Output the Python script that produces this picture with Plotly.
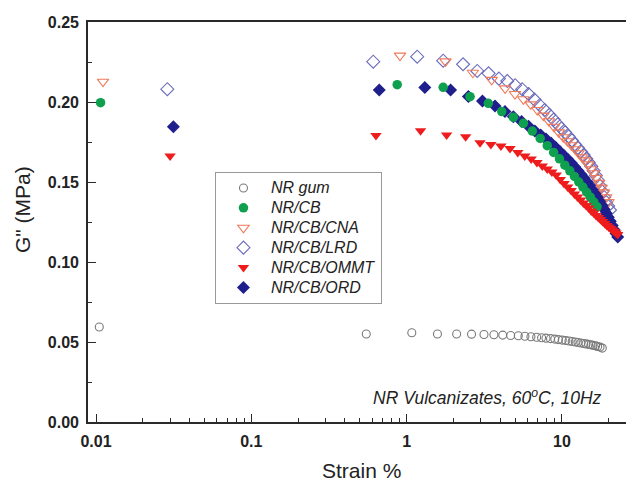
import plotly.graph_objects as go

# ---------------- data ----------------
strain_gum = [0.0105, 0.55, 1.08, 1.58, 2.10, 2.62, 3.15, 3.65, 4.16, 4.68, 5.24, 5.78, 6.32, 6.88, 7.40,
              7.90, 8.45, 9.00, 9.50, 10.05, 10.6, 11.1, 11.65, 12.2, 12.7, 13.25, 13.8, 14.3, 14.85,
              15.4, 15.9, 16.5, 17.0, 17.6, 18.2]
g_gum = [0.0594, 0.0550, 0.0558, 0.0550, 0.0550, 0.0549, 0.0547, 0.0545, 0.0543, 0.0541, 0.0539, 0.0536,
         0.0533, 0.0530, 0.0527, 0.0524, 0.0521, 0.0518, 0.0515, 0.0512, 0.0509, 0.0506, 0.0503, 0.0500,
         0.0497, 0.0494, 0.0491, 0.0488, 0.0485, 0.0482, 0.0479, 0.0476, 0.0472, 0.0468, 0.0462]

strain_cb = [0.0107, 0.87, 1.72, 2.56, 3.36, 4.10, 4.87, 5.65, 6.45, 7.25, 8.05, 8.85, 9.65, 10.45, 11.25,
             12.05, 12.85, 13.65, 14.45, 15.25, 16.05, 16.85]
g_cb = [0.1996, 0.2108, 0.2092, 0.2033, 0.1992, 0.1940, 0.1904, 0.1867, 0.1818, 0.1772, 0.1727, 0.1685,
        0.1645, 0.1605, 0.1570, 0.1535, 0.1500, 0.1468, 0.1436, 0.1405, 0.1375, 0.1345]

strain_cna = [0.0111, 0.907, 1.78, 2.67, 3.53, 4.31, 4.99, 5.65, 6.30, 6.95, 7.60, 8.25, 8.90, 9.55, 10.2,
              10.85, 11.5, 12.15, 12.8, 13.45, 14.1, 14.75, 15.4, 16.05, 16.7, 17.35, 18.0, 18.65, 19.3, 19.95]
g_cna = [0.2127, 0.2290, 0.2254, 0.2183, 0.2138, 0.2085, 0.2050, 0.2017, 0.1985, 0.1950, 0.1915, 0.1880,
         0.1845, 0.1810, 0.1780, 0.1755, 0.1730, 0.1705, 0.1680, 0.1655, 0.1635, 0.1610, 0.1580, 0.1555,
         0.1525, 0.1495, 0.1465, 0.1435, 0.1405, 0.1375]

strain_lrd = [0.0288, 0.61, 1.17, 1.72, 2.31, 2.85, 3.37, 3.93, 4.45, 5.00, 5.55, 6.10, 6.65, 7.20, 7.75,
              8.30, 8.85, 9.40, 9.95, 10.5, 11.05, 11.6, 12.15, 12.7, 13.25, 13.8, 14.35, 14.9, 15.45,
              16.0, 16.55, 17.1, 17.65, 18.2, 18.75, 19.3, 19.85, 20.4]
g_lrd = [0.2080, 0.2252, 0.2283, 0.2258, 0.2236, 0.2194, 0.2179, 0.2146, 0.2131, 0.2105, 0.2080, 0.2050,
         0.2015, 0.1980, 0.1950, 0.1920, 0.1890, 0.1860, 0.1835, 0.1810, 0.1785, 0.1760, 0.1735, 0.1712,
         0.1690, 0.1668, 0.1645, 0.1622, 0.1598, 0.1570, 0.1540, 0.1510, 0.1475, 0.1440, 0.1405, 0.1375,
         0.1350, 0.1325]

strain_ommt = [0.030, 0.635, 1.23, 1.81, 2.40, 2.97, 3.49, 4.05, 4.63, 5.20, 5.77, 6.34, 6.91, 7.48, 8.05,
               8.62, 9.19, 9.76, 10.33, 10.9, 11.47, 12.04, 12.61, 13.18, 13.75, 14.32, 14.89, 15.46,
               16.03, 16.6, 17.17, 17.74, 18.31, 18.88, 19.45, 20.02, 20.59, 21.16, 21.73, 22.3, 22.87]
g_ommt = [0.1663, 0.1790, 0.1820, 0.1794, 0.1783, 0.1746, 0.1735, 0.1725, 0.1710, 0.1684, 0.1663, 0.1644,
          0.1622, 0.1600, 0.1581, 0.1563, 0.1544, 0.1516, 0.1491, 0.1469, 0.1447, 0.1425, 0.1406, 0.1388,
          0.1369, 0.1353, 0.1338, 0.1319, 0.1306, 0.1291, 0.1278, 0.1266, 0.1253, 0.1241, 0.1228, 0.1219,
          0.1209, 0.1200, 0.1191, 0.1181, 0.1172]

strain_ord = [0.0315, 0.667, 1.31, 1.92, 2.50, 3.08, 3.71, 4.30, 4.87, 5.50, 6.10, 6.70, 7.30, 7.90, 8.50,
              9.10, 9.70, 10.3, 10.9, 11.5, 12.1, 12.7, 13.3, 13.9, 14.5, 15.1, 15.7, 16.3, 16.9, 17.5,
              18.1, 18.7, 19.3, 19.9, 20.5, 21.1, 21.7, 22.3, 22.9]
g_ord = [0.1846, 0.2075, 0.2090, 0.2075, 0.2035, 0.2006, 0.1975, 0.1940, 0.1908, 0.1878, 0.1848, 0.1819,
         0.1794, 0.1769, 0.1744, 0.1717, 0.1690, 0.1666, 0.1642, 0.1618, 0.1594, 0.1570, 0.1547, 0.1524,
         0.1500, 0.1476, 0.1452, 0.1428, 0.1404, 0.1380, 0.1355, 0.1330, 0.1305, 0.1280, 0.1255, 0.1228,
         0.1202, 0.1178, 0.1156]

x_tick_vals = [0.01, 0.1, 1, 10]
x_tick_text = ["0.01", "0.1", "1", "10"]
y_tick_vals = [0.00, 0.05, 0.10, 0.15, 0.20, 0.25]
y_tick_text = ["0.00", "0.05", "0.10", "0.15", "0.20", "0.25"]

# ---------------- figure ----------------
FONT = "Liberation Sans, Arial, sans-serif"
AX = "#2a2a2a"

fig = go.Figure()

def add(x, y, name, symbol, color, size, rank, filled=True):
    if filled:
        marker = dict(symbol=symbol, size=size, color=color, line=dict(width=0))
    else:
        marker = dict(symbol=symbol, size=size, color=color, line=dict(width=1.1, color=color))
    label = '<span style="font-size:16px">' + name + '</span>'
    fig.add_trace(go.Scatter(x=x, y=y, mode="markers", name=label, marker=marker, legendrank=rank))

add(strain_gum, g_gum, "NR gum", "circle-open", "#7a7a7a", 8, 1, filled=False)
add(strain_lrd, g_lrd, "NR/CB/LRD", "diamond-open", "#6b6bbd", 10, 4, filled=False)
add(strain_cna, g_cna, "NR/CB/CNA", "triangle-down-open", "#f07a5a", 10, 3, filled=False)
add(strain_ord, g_ord, "NR/CB/ORD", "diamond", "#1e1e8c", 10, 6)
add(strain_cb, g_cb, "NR/CB", "circle", "#0ea04e", 9.5, 2)
add(strain_ommt, g_ommt, "NR/CB/OMMT", "triangle-down", "#ee1c1c", 10, 5)

fig.update_layout(
    width=626, height=483,
    margin=dict(l=88, r=0, t=22, b=61, autoexpand=False),
    paper_bgcolor="white", plot_bgcolor="white",
    font=dict(family=FONT, color="#222"),
    showlegend=True,
    legend=dict(
        x=0.236, y=0.625, xanchor="left", yanchor="top",
        bgcolor="white", bordercolor="#999", borderwidth=1,
        font=dict(size=13, style="italic", color="#222"),
        itemwidth=45, tracegroupgap=0,
    ),
    xaxis=dict(
        type="log", range=[-2.0515, 1.4128], automargin=False,
        tickvals=x_tick_vals, ticktext=x_tick_text,
        ticks="inside", ticklen=8, tickwidth=1.3, tickcolor=AX,
        showline=True, linecolor=AX, linewidth=1.6, mirror=True,
        showgrid=False, zeroline=False,
        tickfont=dict(size=16, color="#222", weight="bold"),
        ticklabelstandoff=4,
        minor=dict(ticks="inside", ticklen=4, tickwidth=1.2, tickcolor=AX, showgrid=False,
                   tickvals=[0.02, 0.03, 0.04, 0.05, 0.06, 0.07, 0.08, 0.09,
                             0.2, 0.3, 0.4, 0.5, 0.6, 0.7, 0.8, 0.9,
                             2, 3, 4, 5, 6, 7, 8, 9, 20]),
    ),
    yaxis=dict(
        range=[0, 0.25], automargin=False,
        tickvals=y_tick_vals, ticktext=y_tick_text,
        ticks="inside", ticklen=8, tickwidth=1.3, tickcolor=AX,
        showline=True, linecolor=AX, linewidth=1.6, mirror=False,
        showgrid=False, zeroline=False,
        tickfont=dict(size=16, color="#222", weight="bold"),
        ticklabelstandoff=4,
        minor=dict(ticks="inside", ticklen=4, tickwidth=1.2, tickcolor=AX, showgrid=False,
                   tickvals=[0.025, 0.075, 0.125, 0.175, 0.225]),
    ),
    annotations=[
        dict(text="NR Vulcanizates, 60<sup>o</sup>C, 10Hz",
             xref="paper", yref="paper", x=(604 - 88) / 538, y=(422 - 397) / 400,
             xanchor="right", yanchor="middle", showarrow=False,
             font=dict(size=17.5, style="italic", color="#222")),
        dict(text="Strain %", xref="paper", yref="paper", x=(361 - 88) / 538, y=-(470 - 422) / 400,
             xanchor="center", yanchor="middle", showarrow=False,
             font=dict(size=21, color="#222")),
        dict(text='G" (MPa)', xref="paper", yref="paper", x=-(88 - 22) / 538, y=(422 - 210) / 400,
             xanchor="center", yanchor="middle", showarrow=False, textangle=-90,
             font=dict(size=21, color="#222")),
    ],
)

fig.write_html("out.html", config={"displayModeBar": False},
               post_script="document.body.style.margin='0';document.body.style.overflow='hidden';")
